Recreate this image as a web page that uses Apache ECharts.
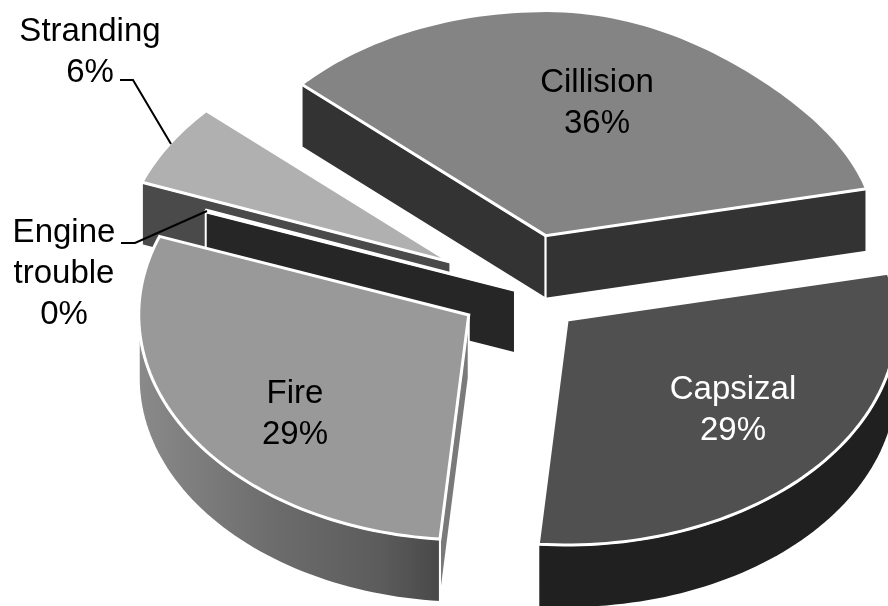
<!DOCTYPE html>
<html>
<head>
<meta charset="utf-8">
<style>html,body{margin:0;padding:0;background:#fff}#c{width:888px;height:606px}</style>
<script src="https://cdn.jsdelivr.net/npm/echarts@6/dist/echarts.min.js"></script>
</head>
<body>
<div id="c"></div>
<script>
// Data
const categories = ['Cillision', 'Capsizal', 'Fire', 'Engine\ntrouble', 'Stranding'];
const values = [35.5, 29.4, 29.4, 0.1, 6.0];
// Styles
const topColors = ['#848484', '#505050', '#999999', '#777777', '#b0b0b0'];
const wallColors = ['#333333', '#202020', '#6a6a6a', '#262626', '#4a4a4a'];
const labelColors = ['#000', '#fff', '#000', '#000', '#000'];
const explode = [86, 61, 63, 7.5, 84];
const labelAnchors = [[597, 103], [733, 410], [295, 414], [64, 274], [90, 52]];
const leaders = [null, null, null, [[121, 243], [135, 243], [207, 211]], [[120, 80], [133, 80], [171, 144]]];
const drawOrder = [0, 1, 4, 3, 2];

const CX = 522, CY = 292, RX = 330, RY = 225, H = 63, START = 222.3;
const BACK_RIGHT_DENT = 0.045, BACK_RIGHT_TURN = 1.7;
const rad = d => d * Math.PI / 180;
const total = values.reduce((a, b) => a + b, 0);

const slices = [];
let acc = START;
values.forEach((v, i) => {
  const a0 = acc, a1 = acc + v / total * 360;
  acc = a1;
  const mid = rad((a0 + a1) / 2);
  slices.push({
    a0, a1,
    ax: CX + explode[i] * Math.cos(mid),
    ay: CY + explode[i] * RY / RX * Math.sin(mid)
  });
});

// The picture's projection pulls the back-right quarter of the disc slightly inwards.
function rim(s, t) {
  const d = ((t % 360) + 360) % 360;
  let f = 1, a = t;
  if (d > 270) {
    f = 1 - BACK_RIGHT_DENT * Math.pow(Math.sin(rad((d - 270) * 2)), 2);
    a = t - BACK_RIGHT_TURN * Math.sin(rad(d - 270));
  }
  return [s.ax + f * RX * Math.cos(rad(a)), s.ay + f * RY * Math.sin(rad(a))];
}
function rimPoints(s, from, to) {
  const pts = [];
  const n = Math.max(1, Math.ceil((to - from) / 1.5));
  for (let k = 0; k <= n; k++) pts.push(rim(s, from + (to - from) * k / n));
  return pts;
}
function radialWall(s, t, fill) {
  const r = rim(s, t);
  return {
    type: 'polygon',
    shape: { points: [[s.ax, s.ay], r, [r[0], r[1] + H], [s.ax, s.ay + H]] },
    style: { fill: fill, stroke: '#fff', lineWidth: 2, lineJoin: 'miter' }
  };
}
function arcWalls(s, fill) {
  const out = [];
  [[0, 180], [360, 540]].forEach(([lo, hi]) => {
    const from = Math.max(s.a0, lo), to = Math.min(s.a1, hi);
    if (to <= from) return;
    const top = rimPoints(s, from, to);
    const bottom = top.map(p => [p[0], p[1] + H]).reverse();
    out.push({
      type: 'polygon',
      shape: { points: top.concat(bottom) },
      style: { fill: fill, stroke: '#fff', lineWidth: 2 }
    });
  });
  return out;
}

const fireGradient = {
  type: 'linear', x: 0, y: 0, x2: 1, y2: 0,
  colorStops: [
    { offset: 0, color: '#8a8a8a' },
    { offset: 0.45, color: '#6c6c6c' },
    { offset: 0.8, color: '#5c5c5c' },
    { offset: 1, color: '#484848' }
  ]
};

function renderSlice(params, api) {
  const i = api.value(0);
  const s = slices[i];
  const children = [];
  if (Math.cos(rad(s.a0)) < 0) children.push(radialWall(s, s.a0, i === 2 ? '#7a7a7a' : wallColors[i]));
  if (Math.cos(rad(s.a1)) > 0) children.push(radialWall(s, s.a1, wallColors[i]));
  children.push(...arcWalls(s, i === 2 ? fireGradient : wallColors[i]));
  children.push({
    type: 'polygon',
    shape: { points: [[s.ax, s.ay]].concat(rimPoints(s, s.a0, s.a1)) },
    style: { fill: topColors[i], stroke: '#fff', lineWidth: 3, lineJoin: 'miter' }
  });
  return { type: 'group', children };
}

function renderLabel(params, api) {
  const i = api.value(0);
  const children = [{
    type: 'text',
    style: {
      x: labelAnchors[i][0], y: labelAnchors[i][1],
      text: categories[i] + '\n' + Math.round(values[i]) + '%',
      fill: labelColors[i],
      font: '33px "Liberation Sans", Arial, sans-serif',
      lineHeight: 41,
      align: 'center', verticalAlign: 'middle'
    }
  }];
  if (leaders[i]) children.push({
    type: 'polyline',
    shape: { points: leaders[i] },
    style: { fill: 'none', stroke: '#000', lineWidth: 2 }
  });
  return { type: 'group', children };
}

const chart = echarts.init(document.getElementById('c'), null, { renderer: 'canvas', width: 888, height: 606 });
chart.setOption({
  animation: false,
  backgroundColor: '#fff',
  series: [
    { type: 'custom', name: 'Slices', coordinateSystem: 'none', z: 2, silent: true,
      renderItem: renderSlice, data: drawOrder.map(i => [i, values[i]]) },
    { type: 'custom', name: 'Labels', coordinateSystem: 'none', z: 3, silent: true,
      renderItem: renderLabel, data: values.map((v, i) => [i, v]) }
  ]
});
</script>
</body>
</html>
